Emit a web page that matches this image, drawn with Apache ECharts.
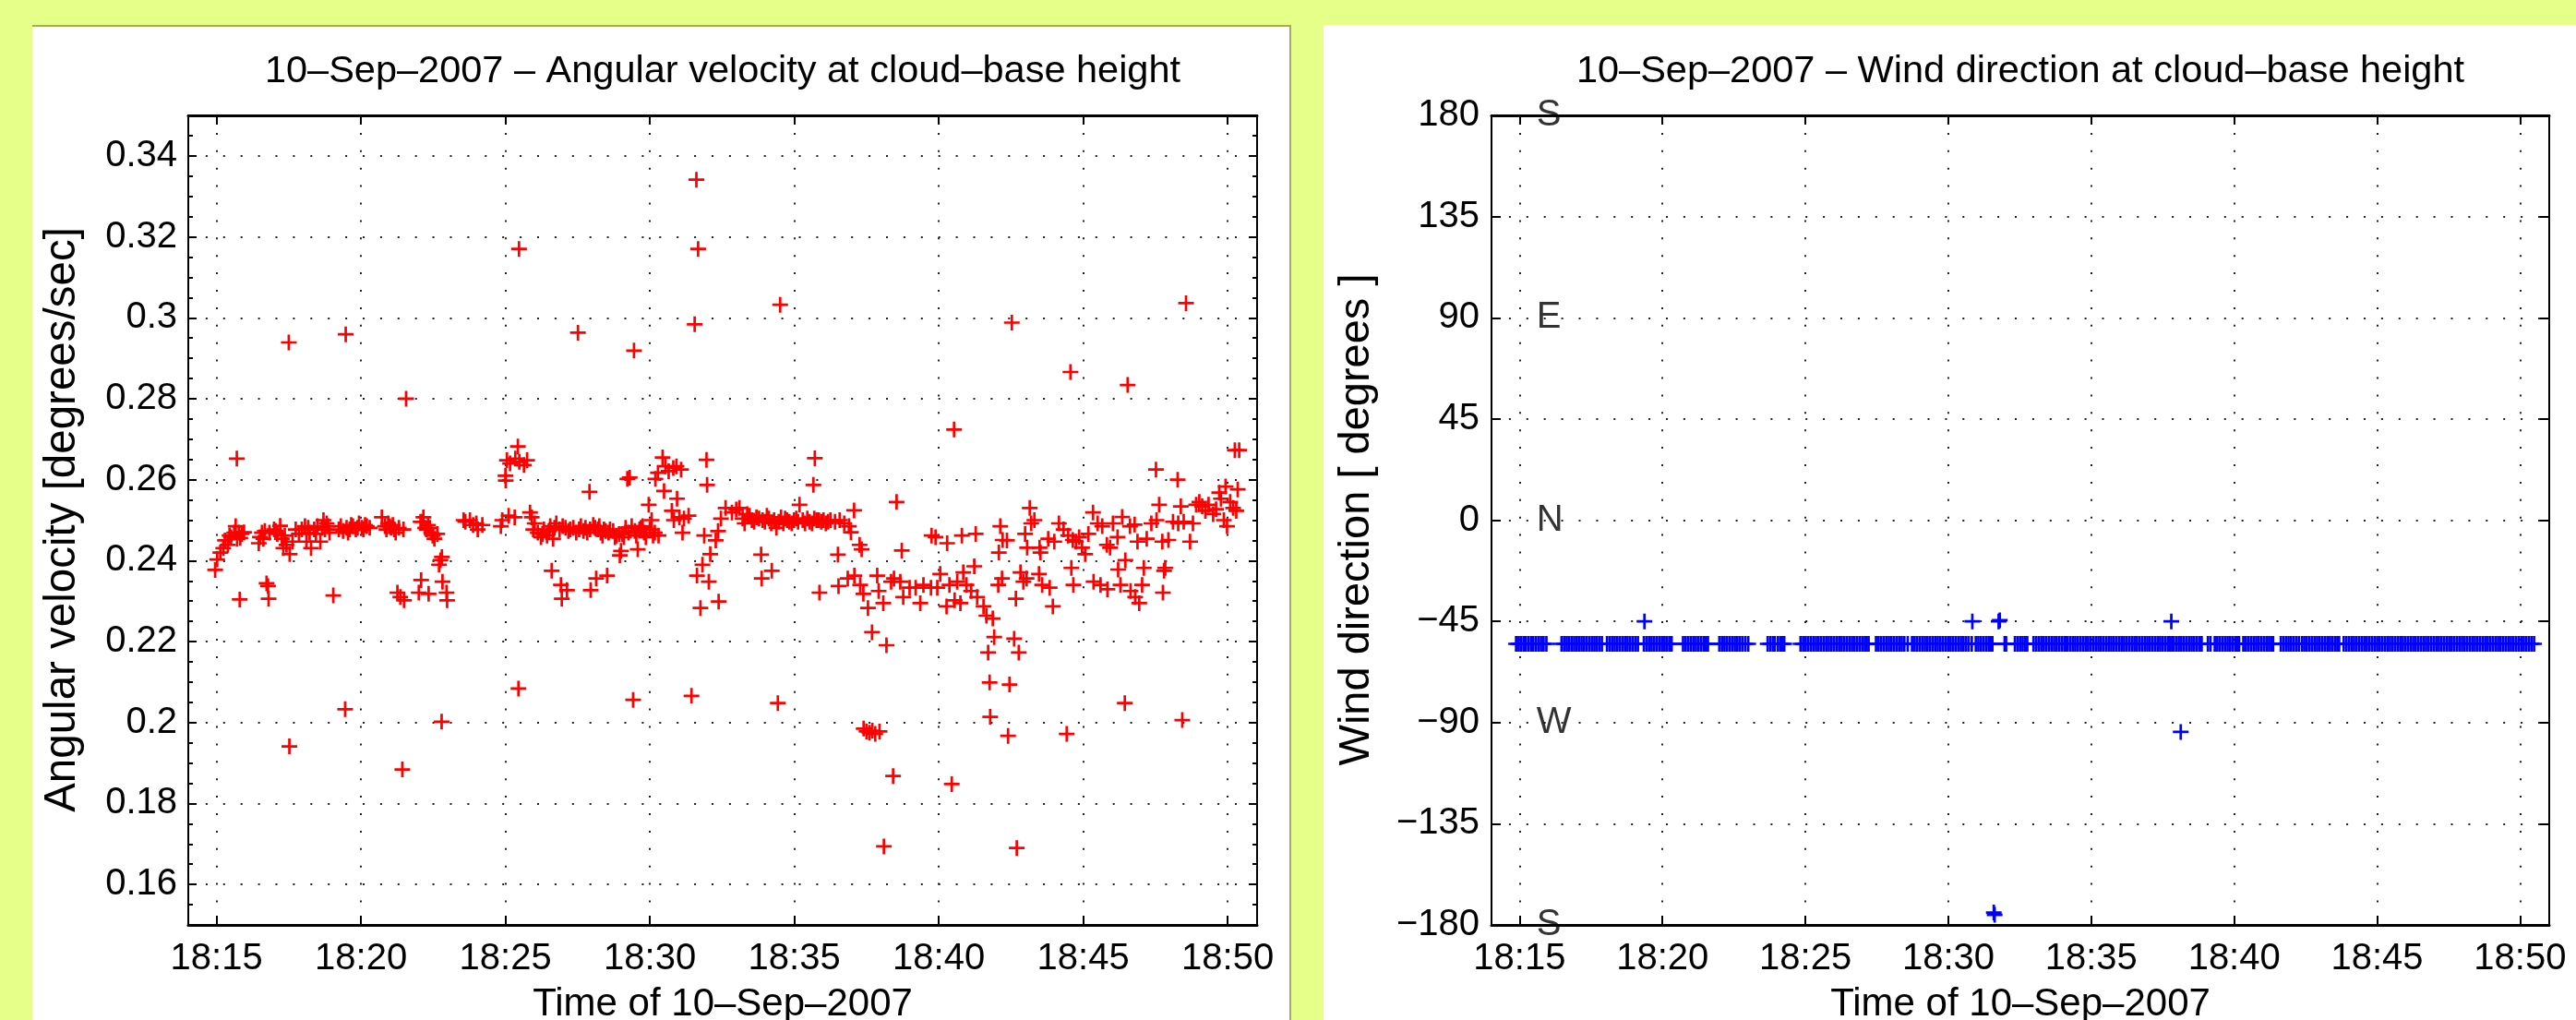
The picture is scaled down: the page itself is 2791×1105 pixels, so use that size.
<!DOCTYPE html>
<html><head><meta charset="utf-8">
<script src="https://cdn.jsdelivr.net/npm/echarts@6/dist/echarts.min.js"></script>
<style>
html,body{margin:0;padding:0;width:2791px;height:1105px;overflow:hidden;background:#E6FF88;}
#lp{position:absolute;left:35px;top:27px;width:1364px;height:1100px;background:#fff;box-sizing:border-box;border-top:2px solid #a3ad5a;border-right:2px solid #a3ad5a;}
#rp{position:absolute;left:1434px;top:27px;width:1400px;height:1100px;background:#fff;}
#chart{position:absolute;left:0;top:0;width:2791px;height:1105px;}
</style></head><body>
<div id="lp"></div><div id="rp"></div><div id="chart"></div>
<script>
// ---------- DATA ----------
// time = minutes after 18:00 on 10-Sep-2007
const leftTitle = '10\u2013Sep\u20132007 \u2013 Angular velocity at cloud\u2013base height';
const rightTitle = '10\u2013Sep\u20132007 \u2013 Wind direction at cloud\u2013base height';
const xTitle = 'Time of 10\u2013Sep\u20132007';
const leftYTitle = 'Angular velocity [degrees/sec]';
const rightYTitle = 'Wind direction [ degrees ]';

const timeTicks = [15, 20, 25, 30, 35, 40, 45, 50];
const timeTickLabels = ['18:15', '18:20', '18:25', '18:30', '18:35', '18:40', '18:45', '18:50'];
const avTicks = [0.16, 0.18, 0.2, 0.22, 0.24, 0.26, 0.28, 0.3, 0.32, 0.34];
const avTickLabels = ['0.16', '0.18', '0.2', '0.22', '0.24', '0.26', '0.28', '0.3', '0.32', '0.34'];
const avMinorTicks = [0.15,0.155,0.16,0.165,0.17,0.175,0.18,0.185,0.19,0.195,0.2,0.205,0.21,0.215,0.22,0.225,0.23,0.235,0.24,0.245,0.25,0.255,0.26,0.265,0.27,0.275,0.28,0.285,0.29,0.295,0.3,0.305,0.31,0.315,0.32,0.325,0.33,0.335,0.34,0.345,0.35];
const wdTicks = [-180, -135, -90, -45, 0, 45, 90, 135, 180];
const wdTickLabels = ['\u2212180', '\u2212135', '\u221290', '\u221245', '0', '45', '90', '135', '180'];
const compassLetters = ['S', 'E', 'N', 'W', 'S'];
const compassAngles = [180, 90, 0, -90, -180];

const angVelPoints = [
[14.95,0.2377],[15.02,0.2403],[15.13,0.2420],[15.23,0.2431],[15.29,0.2450],[15.39,0.2439],[15.45,0.2462],[15.50,0.2458],[15.61,0.2469],[15.66,0.2485],[15.70,0.2652],[15.71,0.2454],[15.77,0.2469],[15.80,0.2304],[15.82,0.2456],[15.87,0.2466],[15.95,0.2470],
[16.46,0.2443],[16.50,0.2458],[16.57,0.2469],[16.62,0.2454],[16.67,0.2473],[16.73,0.2344],[16.78,0.2337],[16.80,0.2306],[16.83,0.2469],[16.99,0.2477],[17.05,0.2473],[17.10,0.2466],[17.20,0.2486],[17.26,0.2454],[17.31,0.2431],[17.36,0.2462],[17.42,0.2439],[17.50,0.2939],[17.52,0.1941],[17.53,0.2416],[17.63,0.2447],[17.74,0.2477],[17.85,0.2466],[17.95,0.2477],
[18.06,0.2485],[18.11,0.2447],[18.17,0.2481],[18.22,0.2469],[18.27,0.2431],[18.38,0.2477],[18.44,0.2466],[18.49,0.2485],[18.59,0.2447],[18.65,0.2481],[18.70,0.2500],[18.75,0.2477],[18.81,0.2492],[18.86,0.2485],[18.91,0.2469],
[19.04,0.2314],[19.23,0.2477],[19.30,0.2485],[19.38,0.2473],[19.45,0.2033],[19.47,0.2959],[19.50,0.2481],[19.55,0.2469],[19.61,0.2477],[19.66,0.2488],[19.72,0.2485],[19.82,0.2477],[19.88,0.2481],[19.93,0.2492],
[20.03,0.2481],[20.08,0.2477],[20.14,0.2488],[20.20,0.2485],[20.30,0.2481],[20.72,0.2507],[20.83,0.2485],[20.88,0.2477],[20.94,0.2492],[20.99,0.2485],
[21.04,0.2481],[21.10,0.2488],[21.15,0.2477],[21.20,0.2469],[21.26,0.2321],[21.31,0.2481],[21.36,0.2310],[21.43,0.1884],[21.47,0.2477],[21.49,0.2302],[21.56,0.2800],
[22.00,0.2321],[22.06,0.2496],[22.08,0.2352],[22.11,0.2496],[22.16,0.2507],[22.22,0.2481],[22.27,0.2477],[22.32,0.2488],[22.34,0.2318],[22.38,0.2481],[22.43,0.2469],[22.48,0.2462],[22.54,0.2454],[22.64,0.2466],[22.70,0.2390],[22.75,0.2401],[22.79,0.2002],[22.80,0.2409],[22.82,0.2348],[22.96,0.2321],[22.98,0.2302],
[23.55,0.2500],[23.61,0.2496],[23.77,0.2500],[23.88,0.2488],[23.99,0.2492],[24.04,0.2477],[24.20,0.2488],[24.84,0.2485],[24.89,0.2500],
[25.00,0.2610],[25.01,0.2598],[25.05,0.2648],[25.11,0.2511],[25.16,0.2640],[25.32,0.2507],[25.34,0.2652],[25.43,0.2682],[25.45,0.2084],[25.47,0.3170],[25.48,0.2644],[25.64,0.2636],[25.75,0.2648],[25.85,0.2519],[25.91,0.2507],[25.96,0.2477],
[26.01,0.2492],[26.12,0.2469],[26.23,0.2458],[26.28,0.2466],[26.33,0.2477],[26.44,0.2462],[26.50,0.2473],[26.55,0.2485],[26.60,0.2375],[26.65,0.2454],[26.70,0.2481],[26.76,0.2492],[26.87,0.2477],[26.92,0.2340],[26.95,0.2306],[26.98,0.2485],
[27.08,0.2481],[27.13,0.2327],[27.18,0.2473],[27.24,0.2477],[27.35,0.2481],[27.45,0.2469],[27.51,0.2963],[27.55,0.2477],[27.61,0.2485],[27.70,0.2473],[27.77,0.2481],[27.83,0.2469],[27.91,0.2570],[27.93,0.2477],[27.95,0.2327],
[28.04,0.2488],[28.10,0.2481],[28.14,0.2356],[28.20,0.2477],[28.25,0.2485],[28.30,0.2469],[28.36,0.2462],[28.41,0.2477],[28.47,0.2473],[28.52,0.2363],[28.57,0.2469],[28.62,0.2477],[28.73,0.2473],[28.79,0.2458],[28.84,0.2462],[28.94,0.2466],[28.96,0.2413],
[29.00,0.2424],[29.05,0.2466],[29.10,0.2458],[29.16,0.2481],[29.22,0.2602],[29.26,0.2469],[29.30,0.2605],[29.37,0.2485],[29.42,0.2056],[29.45,0.2919],[29.48,0.2473],[29.53,0.2462],[29.58,0.2428],[29.64,0.2477],[29.69,0.2481],[29.75,0.2485],[29.80,0.2469],[29.86,0.2458],[29.96,0.2538],
[30.00,0.2477],[30.06,0.2500],[30.11,0.2462],[30.17,0.2469],[30.19,0.2602],[30.28,0.2617],[30.30,0.2462],[30.44,0.2655],[30.49,0.2572],[30.54,0.2633],[30.65,0.2621],[30.76,0.2523],[30.81,0.2629],[30.83,0.2500],[30.92,0.2633],[30.94,0.2553],
[31.02,0.2507],[31.08,0.2625],[31.13,0.2469],[31.18,0.2504],[31.34,0.2511],[31.44,0.2066],[31.55,0.2984],[31.61,0.3341],[31.63,0.2363],[31.67,0.3170],[31.75,0.2283],[31.82,0.2390],[31.88,0.2462],[31.96,0.2649],[31.98,0.2587],
[32.04,0.2348],[32.09,0.2416],[32.28,0.2450],[32.36,0.2473],[32.38,0.2299],[32.46,0.2504],[32.62,0.2530],[32.84,0.2519],[32.99,0.2526],
[33.10,0.2530],[33.21,0.2504],[33.28,0.2492],[33.37,0.2515],[33.45,0.2511],[33.53,0.2500],[33.61,0.2496],[33.69,0.2507],[33.78,0.2504],[33.85,0.2415],[33.87,0.2356],[33.90,0.2500],[33.98,0.2496],
[34.05,0.2511],[34.12,0.2504],[34.20,0.2492],[34.22,0.2375],[34.30,0.2500],[34.38,0.2481],[34.43,0.2048],[34.46,0.2496],[34.51,0.3032],[34.54,0.2507],[34.62,0.2492],[34.68,0.2504],[34.75,0.2500],[34.83,0.2496],[34.91,0.2492],[34.99,0.2500],
[35.07,0.2504],[35.13,0.2496],[35.18,0.2538],[35.29,0.2500],[35.37,0.2492],[35.45,0.2504],[35.53,0.2496],[35.61,0.2492],[35.66,0.2587],[35.69,0.2504],[35.71,0.2653],[35.77,0.2500],[35.85,0.2500],[35.87,0.2321],[35.93,0.2496],
[36.01,0.2500],[36.09,0.2492],[36.17,0.2496],[36.25,0.2500],[36.41,0.2496],[36.51,0.2415],[36.53,0.2337],[36.57,0.2500],[36.73,0.2492],[36.85,0.2356],[36.89,0.2485],[36.96,0.2470],
[37.07,0.2524],[37.08,0.2363],[37.26,0.2439],[37.28,0.2340],[37.33,0.2428],[37.39,0.2318],[37.40,0.1985],[37.50,0.1978],[37.55,0.2283],[37.60,0.1975],[37.69,0.2223],[37.70,0.1980],[37.80,0.1972],[37.87,0.2363],[37.92,0.2325],[37.95,0.1978],
[38.08,0.2295],[38.10,0.1694],[38.19,0.2191],[38.35,0.2348],[38.42,0.1868],[38.45,0.2356],[38.54,0.2545],[38.67,0.2348],[38.72,0.2425],[38.77,0.2310],[38.99,0.2333],
[39.20,0.2333],[39.36,0.2295],[39.47,0.2340],[39.73,0.2333],[39.75,0.2462],[39.89,0.2458],[39.95,0.2333],
[40.05,0.2367],[40.27,0.2287],[40.29,0.2443],[40.37,0.2340],[40.45,0.1848],[40.53,0.2724],[40.55,0.2302],[40.64,0.2348],[40.75,0.2295],[40.80,0.2462],[40.85,0.2371],[40.96,0.2340],
[41.12,0.2325],[41.23,0.2386],[41.28,0.2466],[41.33,0.2310],[41.55,0.2287],[41.65,0.2264],[41.71,0.2173],[41.76,0.2099],[41.78,0.2014],[41.87,0.2257],[41.92,0.2211],
[42.06,0.2340],[42.08,0.2420],[42.13,0.2485],[42.19,0.2356],[42.21,0.2451],[42.36,0.2450],[42.40,0.1967],[42.45,0.2094],[42.53,0.2988],[42.61,0.2207],[42.67,0.2306],[42.70,0.1690],[42.77,0.2173],[42.83,0.2371],[42.93,0.2348],[42.99,0.2466],
[43.04,0.2356],[43.06,0.2432],[43.15,0.2530],[43.20,0.2492],[43.31,0.2500],[43.47,0.2367],[43.49,0.2432],[43.52,0.2420],[43.58,0.2340],[43.79,0.2454],[43.84,0.2333],[43.95,0.2287],
[44.00,0.2447],[44.16,0.2492],[44.32,0.2477],[44.43,0.1972],[44.48,0.2462],[44.56,0.2866],[44.59,0.2382],[44.64,0.2451],[44.66,0.2340],[44.75,0.2447],[44.86,0.2458],[44.96,0.2432],
[45.07,0.2416],[45.18,0.2466],[45.34,0.2519],[45.36,0.2348],[45.50,0.2492],[45.60,0.2340],[45.66,0.2485],[45.82,0.2439],[45.84,0.2329],[45.93,0.2432],
[46.03,0.2492],[46.19,0.2458],[46.21,0.2378],[46.29,0.2340],[46.35,0.2508],[46.44,0.2048],[46.46,0.2401],[46.54,0.2834],[46.62,0.2485],[46.64,0.2325],[46.78,0.2489],[46.80,0.2310],[46.88,0.2447],[46.94,0.2295],
[47.04,0.2340],[47.10,0.2382],[47.20,0.2454],[47.36,0.2492],[47.52,0.2625],[47.54,0.2500],[47.63,0.2538],[47.74,0.2447],[47.76,0.2321],[47.80,0.2375],[47.84,0.2382],[47.95,0.2451],
[48.11,0.2496],[48.27,0.2600],[48.29,0.2492],[48.38,0.2534],[48.43,0.2006],[48.48,0.2496],[48.56,0.3036],[48.70,0.2447],[48.80,0.2492],[48.91,0.2538],
[49.02,0.2545],[49.12,0.2534],[49.23,0.2523],[49.34,0.2538],[49.50,0.2515],[49.60,0.2527],[49.71,0.2568],[49.77,0.2553],[49.87,0.2500],[49.93,0.2583],[49.98,0.2485],
[50.09,0.2545],[50.19,0.2530],[50.25,0.2673],[50.30,0.2523],[50.35,0.2576],[50.40,0.2673]
];

const windPoints = [
[14.88,-55],[14.97,-55],[15.05,-55],[15.14,-55],[15.22,-55],[15.31,-55],[15.40,-55],[15.48,-55],[15.57,-55],[15.66,-55],[15.75,-55],[15.84,-55],[15.94,-55],
[16.47,-55],[16.56,-55],[16.65,-55],[16.73,-55],[16.82,-55],[16.91,-55],[17.00,-55],[17.08,-55],[17.17,-55],[17.26,-55],[17.35,-55],[17.44,-55],[17.53,-55],[17.62,-55],[17.70,-55],[17.79,-55],[17.88,-55],
[18.06,-55],[18.15,-55],[18.24,-55],[18.33,-55],[18.42,-55],[18.51,-55],[18.60,-55],[18.69,-55],[18.78,-55],[18.87,-55],[18.96,-55],[19.05,-55],[19.14,-55],
[19.37,-45],
[19.35,-55],[19.44,-55],[19.53,-55],[19.62,-55],[19.71,-55],[19.80,-55],[19.89,-55],[19.98,-55],[20.07,-55],[20.15,-55],[20.24,-55],[20.32,-55],
[20.72,-55],[20.81,-55],[20.90,-55],[20.99,-55],[21.08,-55],[21.17,-55],[21.26,-55],[21.35,-55],[21.44,-55],[21.52,-55],[21.59,-55],
[21.99,-55],[22.08,-55],[22.17,-55],[22.26,-55],[22.35,-55],[22.44,-55],[22.53,-55],[22.62,-55],[22.71,-55],[22.80,-55],[22.90,-55],[23.00,-55],
[23.68,-55],[23.77,-55],[23.86,-55],[23.93,-55],[24.04,-55],[24.13,-55],[24.20,-55],[24.26,-55],
[24.83,-55],[24.92,-55],[25.01,-55],[25.10,-55],[25.19,-55],[25.28,-55],[25.37,-55],[25.46,-55],[25.55,-55],[25.64,-55],[25.73,-55],[25.82,-55],[25.91,-55],[26.00,-55],[26.09,-55],[26.18,-55],[26.27,-55],[26.36,-55],[26.45,-55],[26.54,-55],[26.63,-55],[26.72,-55],[26.81,-55],[26.90,-55],[26.99,-55],[27.08,-55],[27.14,-55],[27.21,-55],
[27.47,-55],[27.56,-55],[27.65,-55],[27.74,-55],[27.83,-55],[27.92,-55],[28.01,-55],[28.10,-55],[28.19,-55],[28.28,-55],[28.37,-55],[28.46,-55],[28.58,-55],
[28.73,-55],[28.82,-55],[28.91,-55],[29.00,-55],[29.09,-55],[29.18,-55],[29.27,-55],[29.36,-55],[29.45,-55],[29.54,-55],[29.63,-55],[29.72,-55],[29.81,-55],[29.90,-55],[29.99,-55],[30.08,-55],[30.17,-55],[30.26,-55],[30.35,-55],[30.44,-55],[30.53,-55],[30.62,-55],[30.71,-55],[30.82,-55],
[30.84,-45],
[30.96,-55],[31.05,-55],[31.14,-55],[31.23,-55],[31.32,-55],[31.41,-55],[31.48,-55],[31.54,-55],
[31.59,-174.5],[31.62,-175.5],[31.76,-45],[31.80,-44.5],
[31.97,-55],[32.02,-55],
[32.33,-55],[32.42,-55],[32.51,-55],[32.60,-55],[32.69,-55],[32.76,-55],
[32.98,-55],[33.07,-55],[33.16,-55],[33.25,-55],[33.34,-55],[33.43,-55],[33.52,-55],[33.61,-55],[33.70,-55],[33.79,-55],[33.88,-55],[33.97,-55],[34.06,-55],[34.11,-55],
[34.17,-55],[34.26,-55],[34.35,-55],[34.44,-55],[34.53,-55],[34.62,-55],[34.71,-55],[34.80,-55],[34.89,-55],[34.98,-55],[35.07,-55],[35.16,-55],[35.25,-55],[35.34,-55],[35.43,-55],[35.52,-55],[35.61,-55],[35.70,-55],[35.79,-55],[35.88,-55],[35.97,-55],[36.06,-55],[36.15,-55],[36.24,-55],[36.33,-55],[36.42,-55],[36.51,-55],[36.60,-55],[36.69,-55],[36.78,-55],[36.87,-55],[36.96,-55],[37.05,-55],[37.14,-55],[37.23,-55],[37.32,-55],[37.41,-55],[37.50,-55],[37.59,-55],[37.68,-55],[37.76,-55],[37.83,-55],
[37.80,-45],[38.13,-94.2],
[37.88,-55],[37.97,-55],[38.06,-55],[38.15,-55],[38.24,-55],[38.33,-55],[38.42,-55],[38.51,-55],[38.60,-55],[38.69,-55],[38.78,-55],[38.86,-55],
[39.08,-55],[39.17,-55],
[39.32,-55],[39.41,-55],[39.50,-55],[39.59,-55],[39.68,-55],[39.77,-55],[39.86,-55],[39.95,-55],[40.04,-55],[40.11,-55],[40.17,-55],
[40.32,-55],[40.41,-55],[40.50,-55],[40.59,-55],[40.68,-55],[40.77,-55],[40.86,-55],[40.95,-55],[41.04,-55],[41.13,-55],[41.22,-55],[41.30,-55],[41.36,-55],
[41.63,-55],[41.72,-55],[41.81,-55],[41.90,-55],[41.99,-55],[42.08,-55],[42.17,-55],[42.26,-55],[42.37,-55],
[42.45,-55],[42.54,-55],[42.63,-55],[42.72,-55],[42.81,-55],[42.90,-55],[42.99,-55],[43.08,-55],[43.17,-55],[43.26,-55],[43.35,-55],[43.44,-55],[43.53,-55],[43.61,-55],[43.67,-55],
[43.83,-55],[43.92,-55],[44.01,-55],[44.10,-55],[44.19,-55],[44.28,-55],[44.37,-55],[44.46,-55],[44.55,-55],[44.64,-55],[44.73,-55],[44.82,-55],[44.91,-55],[45.00,-55],[45.09,-55],[45.18,-55],[45.27,-55],[45.36,-55],[45.45,-55],[45.54,-55],[45.63,-55],[45.72,-55],[45.81,-55],[45.90,-55],[45.99,-55],
[46.08,-55],[46.17,-55],[46.26,-55],[46.35,-55],[46.44,-55],[46.53,-55],[46.62,-55],[46.71,-55],[46.80,-55],[46.89,-55],[46.98,-55],[47.07,-55],[47.16,-55],[47.25,-55],[47.34,-55],[47.43,-55],[47.52,-55],[47.61,-55],[47.70,-55],[47.79,-55],[47.88,-55],[47.97,-55],
[48.06,-55],[48.15,-55],[48.24,-55],[48.33,-55],[48.42,-55],[48.51,-55],[48.60,-55],[48.69,-55],[48.78,-55],[48.87,-55],[48.96,-55],[49.05,-55],[49.14,-55],[49.23,-55],[49.32,-55],[49.41,-55],[49.50,-55],[49.59,-55],[49.68,-55],[49.77,-55],[49.86,-55],[49.95,-55],
[50.04,-55],[50.13,-55],[50.22,-55],[50.31,-55],[50.40,-55],[50.49,-55]
];

// ---------- CHART ----------
const FONT = '"Liberation Sans", Arial, Helvetica, sans-serif';
const PLUS = 'path://M42,0H58V42H100V58H58V100H42V58H0V42H42Z';
const X_MIN = 14.02, X_MAX = 51.02;
const grids = [
  {left: 204, top: 125, width: 1158, height: 877},
  {left: 1616, top: 125, width: 1146, height: 877}
];
const gridDots = {color: '#222', width: 2, type: [2, 16.9]};
const axisLineStyle = w => ({show: true, onZero: false, lineStyle: {color: '#000', width: w}});
function timeLabel(v) {
  const i = timeTicks.indexOf(Math.round(v));
  return i >= 0 ? timeTickLabels[i] : '';
}
function avLabel(v) {
  let best = 0;
  for (let i = 1; i < avTicks.length; i++) if (Math.abs(avTicks[i] - v) < Math.abs(avTicks[best] - v)) best = i;
  return avTickLabels[best];
}
function wdLabel(v) {
  const i = wdTicks.indexOf(Math.round(v));
  return i >= 0 ? wdTickLabels[i] : '';
}
const labelFont = {fontSize: 40, fontFamily: FONT, color: '#000', lineHeight: 40};

function xAxes(gi) {
  return [
    {type: 'value', gridIndex: gi, position: 'bottom', min: X_MIN, max: X_MAX,
     axisLine: axisLineStyle(3),
     axisTick: {show: true, inside: true, length: 10, customValues: timeTicks, lineStyle: {color: '#000', width: 2}},
     axisLabel: Object.assign({show: true, customValues: timeTicks, formatter: timeLabel, margin: 17}, labelFont),
     splitLine: {show: true, lineStyle: gridDots}},
    {type: 'value', gridIndex: gi, position: 'top', min: X_MIN, max: X_MAX,
     axisLine: axisLineStyle(3),
     axisTick: {show: true, inside: true, length: 10, customValues: timeTicks, lineStyle: {color: '#000', width: 2}},
     axisLabel: {show: false}, splitLine: {show: false}}
  ];
}

const option = {
  animation: false,
  grid: grids,
  xAxis: xAxes(0).concat(xAxes(1)),
  yAxis: [
    // left chart
    {type: 'value', gridIndex: 0, position: 'left', min: 0.15, max: 0.35,
     axisLine: axisLineStyle(2),
     axisTick: {show: true, inside: true, length: 9, customValues: avTicks, lineStyle: {color: '#000', width: 2}},
     axisLabel: Object.assign({show: true, customValues: avTicks, formatter: avLabel, margin: 12}, labelFont),
     splitLine: {show: true, lineStyle: gridDots}},
    {type: 'value', gridIndex: 0, position: 'left', min: 0.15, max: 0.35,
     axisLine: {show: false},
     axisTick: {show: true, inside: true, length: 5, customValues: avMinorTicks, lineStyle: {color: '#000', width: 2}},
     axisLabel: {show: false}, splitLine: {show: false}},
    {type: 'value', gridIndex: 0, position: 'right', min: 0.15, max: 0.35,
     axisLine: axisLineStyle(2),
     axisTick: {show: true, inside: true, length: 9, customValues: avTicks, lineStyle: {color: '#000', width: 2}},
     axisLabel: {show: false}, splitLine: {show: false}},
    {type: 'value', gridIndex: 0, position: 'right', min: 0.15, max: 0.35,
     axisLine: {show: false},
     axisTick: {show: true, inside: true, length: 5, customValues: avMinorTicks, lineStyle: {color: '#000', width: 2}},
     axisLabel: {show: false}, splitLine: {show: false}},
    // right chart
    {type: 'value', gridIndex: 1, position: 'left', min: -180, max: 180,
     axisLine: axisLineStyle(2),
     axisTick: {show: true, inside: true, length: 10, customValues: wdTicks, lineStyle: {color: '#000', width: 2}},
     axisLabel: Object.assign({show: true, customValues: wdTicks, formatter: wdLabel, margin: 13}, labelFont),
     splitLine: {show: true, lineStyle: gridDots}},
    {type: 'value', gridIndex: 1, position: 'right', min: -180, max: 180,
     axisLine: axisLineStyle(2),
     axisTick: {show: true, inside: true, length: 10, customValues: wdTicks, lineStyle: {color: '#000', width: 2}},
     axisLabel: {show: false}, splitLine: {show: false}}
  ],
  series: [
    {type: 'scatter', xAxisIndex: 0, yAxisIndex: 0, data: angVelPoints,
     symbol: PLUS, symbolSize: 17, itemStyle: {color: '#FF0000', opacity: 1}, silent: true},
    {type: 'scatter', xAxisIndex: 2, yAxisIndex: 4, data: windPoints,
     symbol: PLUS, symbolSize: 17, itemStyle: {color: '#0000FF', opacity: 1}, silent: true},
    {type: 'scatter', xAxisIndex: 2, yAxisIndex: 4, clip: false, silent: true,
     data: compassAngles.map(a => [15.58, a]),
     symbol: 'circle', symbolSize: 1, itemStyle: {color: 'rgba(0,0,0,0)'},
     label: {show: true, position: 'right', distance: 0, formatter: p => compassLetters[p.dataIndex],
             fontSize: 40, fontFamily: FONT, color: '#000', lineHeight: 40}}
  ],
  graphic: [
    {type: 'text', x: 783, y: 78, style: {text: leftTitle, font: '41.5px ' + FONT, fill: '#000', align: 'center', verticalAlign: 'middle'}},
    {type: 'text', x: 2189, y: 78, style: {text: rightTitle, font: '41.5px ' + FONT, fill: '#000', align: 'center', verticalAlign: 'middle'}},
    {type: 'text', x: 783, y: 1088, style: {text: xTitle, font: '42px ' + FONT, fill: '#000', align: 'center', verticalAlign: 'middle'}},
    {type: 'text', x: 2189, y: 1088, style: {text: xTitle, font: '42px ' + FONT, fill: '#000', align: 'center', verticalAlign: 'middle'}},
    {type: 'text', x: 68, y: 563, rotation: Math.PI / 2, style: {text: leftYTitle, font: '47.5px ' + FONT, fill: '#000', align: 'center', verticalAlign: 'middle'}},
    {type: 'text', x: 1470, y: 563, rotation: Math.PI / 2, style: {text: rightYTitle, font: '47px ' + FONT, fill: '#000', align: 'center', verticalAlign: 'middle'}}
  ]
};
const chart = echarts.init(document.getElementById('chart'), null, {renderer: 'canvas', width: 2791, height: 1105});
chart.setOption(option);
</script></body></html>
